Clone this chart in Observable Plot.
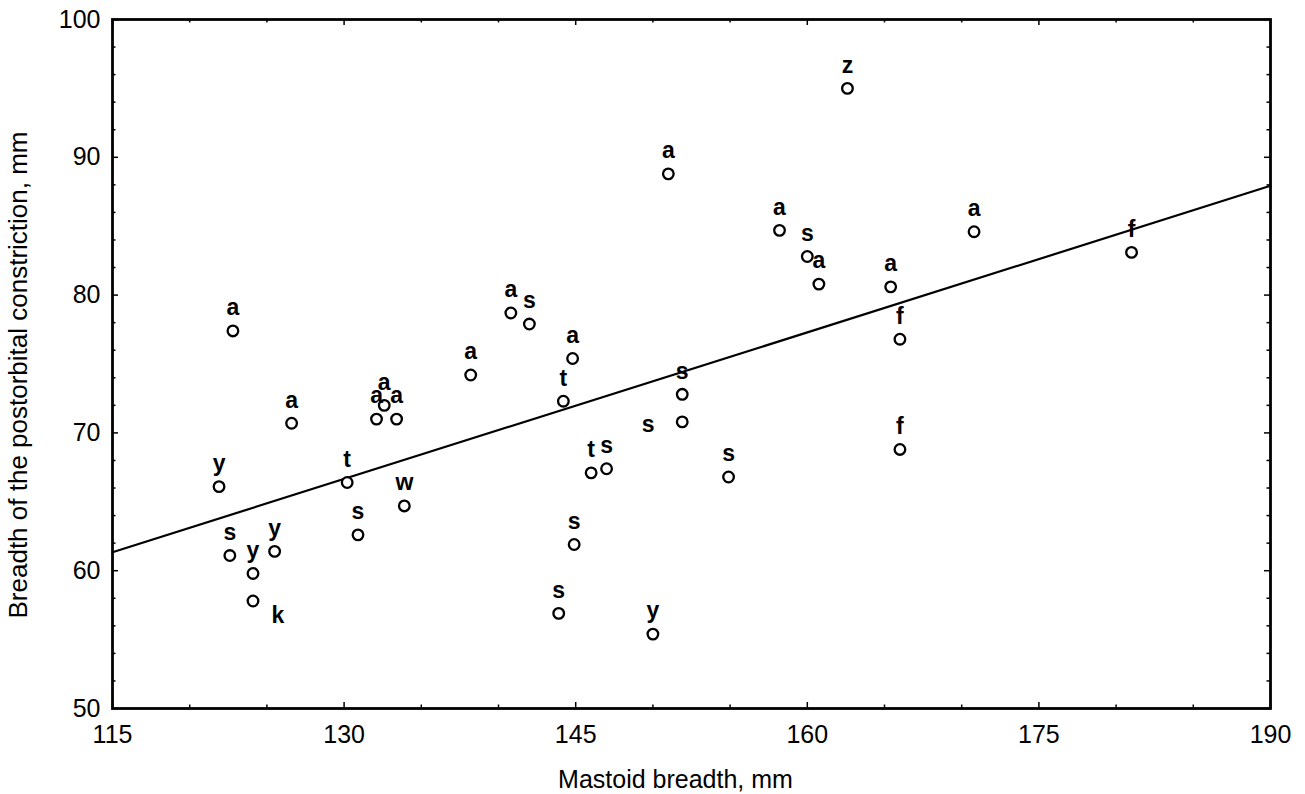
<!DOCTYPE html>
<html><head><meta charset="utf-8">
<script src="https://cdn.jsdelivr.net/npm/d3@7"></script>
<script src="https://cdn.jsdelivr.net/npm/@observablehq/plot@0.6"></script>
<style>body{margin:0;background:#fff;} #chart svg{font-family:"Liberation Sans",Arial,sans-serif;}</style>
</head><body><div id="chart"></div>
<script>
// Group labels of each skull
const groups = ["a","a","a","a","a","a","a","s","a","t",
                "y","t","w","s","y","k","y","s","s","s",
                "t","s","s","a","s","a","f","f","z","a",
                "a","a","s","s","y","f"];
// Mastoid breadth, mm
const mastoid = [122.8,126.6,132.1,132.6,133.4,138.2,140.8,142.0,144.8,144.2,
                 121.9,130.2,133.9,122.6,124.1,124.1,125.5,130.9,151.9,151.9,
                 146.0,147.0,154.9,160.75,160.0,165.4,166.0,166.0,162.6,151.0,
                 158.2,170.8,144.9,143.9,150.0,181.0];
// Breadth of the postorbital constriction, mm
const postorbital = [77.4,70.7,71.0,72.0,71.0,74.2,78.7,77.9,75.4,72.3,
                     66.1,66.4,64.7,61.1,59.8,57.8,61.4,62.6,72.8,70.8,
                     67.1,67.4,66.8,80.8,82.8,80.6,76.8,68.8,95.0,88.8,
                     84.7,84.6,61.9,56.9,55.4,83.1];
// where each label sits relative to its point
const placement = ["above","above","above","above","above","above","above","above","above","above",
                   "above","above","above","above","above","belowRight","above","above","above","left",
                   "above","above","above","above","above","above","above","above","above","above",
                   "above","above","above","above","above","above"];
// Regression line (at the two ends)
const regX = [115, 190];
const regY = [61.34, 87.93];
// Tick values
const xMajor = [115,130,145,160,175,190];
const xMinor = [120,125,135,140,150,155,165,170,180,185];
const yMajor = [50,60,70,80,90,100];
const yMinor = [52,54,56,58,62,64,66,68,72,74,76,78,82,84,86,88,92,94,96,98];

const points = groups.map((g, i) => ({g, x: mastoid[i], y: postorbital[i], p: placement[i]}));
const regLine = regX.map((x, i) => ({x, y: regY[i]}));

const W = 1305, H = 794, mL = 112, mR = 35, mT = 19, mB = 86;
const FH = H - mT - mB, FW = W - mL - mR;
const majL = 6, minL = 3.5;

const tickMarks = [];
for (const [vals, len] of [[xMajor, majL], [xMinor, minL]]) {
  tickMarks.push(Plot.tickX(vals, {x: d => d, insetTop: FH - len, stroke: "#000", strokeWidth: 1.5}));
  tickMarks.push(Plot.tickX(vals, {x: d => d, insetBottom: FH - len, stroke: "#000", strokeWidth: 1.5}));
}
for (const [vals, len] of [[yMajor, majL], [yMinor, minL]]) {
  tickMarks.push(Plot.tickY(vals, {y: d => d, insetRight: FW - len, stroke: "#000", strokeWidth: 1.5}));
  tickMarks.push(Plot.tickY(vals, {y: d => d, insetLeft: FW - len, stroke: "#000", strokeWidth: 1.5}));
}

const labelStyle = {fontSize: 23, fontWeight: "bold", fill: "#000"};

const chart = Plot.plot({
  width: W, height: H,
  marginLeft: mL, marginRight: mR, marginTop: mT, marginBottom: mB,
  x: {domain: [115, 190]},
  y: {domain: [50, 100]},
  marks: [
    Plot.axisX({ticks: xMajor, tickSize: 0, tickPadding: 17, fontSize: 25, label: null}),
    Plot.axisY({ticks: yMajor, tickSize: 0, tickPadding: 12, fontSize: 25, label: null}),
    ...tickMarks,
    Plot.line(regLine, {x: "x", y: "y", stroke: "#000", strokeWidth: 2.2}),
    Plot.dot(points, {x: "x", y: "y", r: 5.3, stroke: "#000", strokeWidth: 2.3, fill: "#fff"}),
    Plot.text(points.filter(d => d.p === "above"), {x: "x", y: "y", text: "g", dy: -23, ...labelStyle}),
    Plot.text(points.filter(d => d.p === "left"), {x: "x", y: "y", text: "g", dx: -34, dy: 3, ...labelStyle}),
    Plot.text(points.filter(d => d.p === "belowRight"), {x: "x", y: "y", text: "g", dx: 25, dy: 15, ...labelStyle}),
    Plot.frame({stroke: "#000", strokeWidth: 2.8}),
    Plot.text(["Mastoid breadth, mm"], {frameAnchor: "bottom", textAnchor: "middle", lineAnchor: "middle", dx: -16, dy: 71, fontSize: 25, fill: "#000"}),
    Plot.text(["Breadth of the postorbital constriction, mm"], {frameAnchor: "left", textAnchor: "middle", lineAnchor: "middle", dx: -94, dy: 11, rotate: -90, fontSize: 26, fill: "#000"})
  ]
});
document.getElementById("chart").append(chart);
</script>
</body></html>
